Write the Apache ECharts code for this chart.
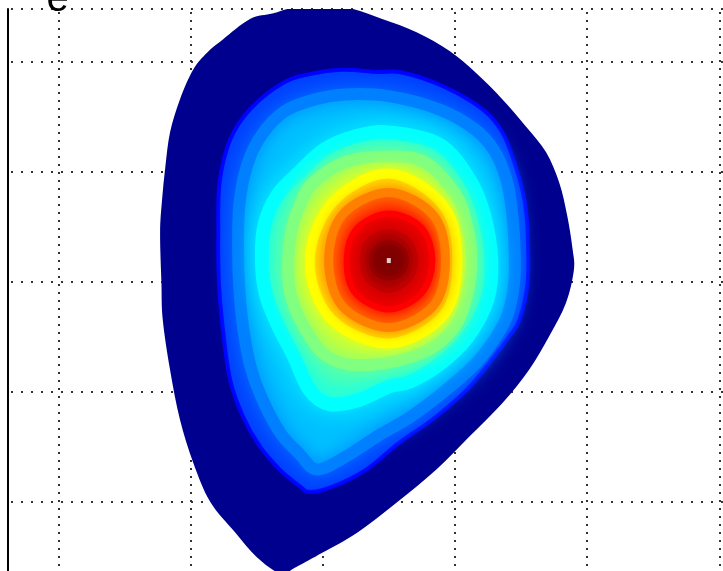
<!DOCTYPE html>
<html>
<head>
<meta charset="utf-8">
<script src="https://cdn.jsdelivr.net/npm/echarts@6/dist/echarts.min.js"></script>
<style>
html,body{margin:0;padding:0;background:#fff;}
#chart{width:723px;height:571px;}
</style>
</head>
<body>
<div id="chart"></div>
<script>
// ---- data (R, Z in axis units; grid spacing = 10) ----
const titleText = 'e';
const xGridValues = [50, 60, 70, 80, 90, 100];
const yGridValues = [-20, -10, 0, 10, 20, 24.818];
const xRange = [46.195, 100.28];
const yRange = [-26.273, 24.818];

// plasma boundary (outermost, lowest level)
const boundary = [[66.2,24.4],[67.7,24.9],[69.9,25.0],[72.0,24.9],[74.5,23.9],[77.1,22.7],[79.6,21.0],[81.6,19.0],[83.6,16.6],[85.4,14.1],[86.9,11.8],[87.9,9.0],[88.5,6.0],[88.9,3.0],[89.0,1.1],[88.4,-1.9],[87.1,-5.0],[85.6,-8.0],[83.6,-11.0],[81.1,-14.05],[78.6,-17.05],[75.6,-20.05],[72.6,-22.8],[70.0,-24.6],[68.0,-25.9],[66.8,-26.5],[65.0,-25.0],[63.4,-22.8],[61.5,-20.0],[60.2,-16.4],[59.2,-12.5],[58.45,-7.95],[57.9,-3.4],[57.8,0.0],[57.7,4.5],[57.85,7.5],[58.1,10.5],[58.45,13.6],[59.2,16.6],[60.2,19.3],[61.25,20.85],[62.45,22.05],[64.5,23.9]];

// contour rings, outer to inner
const ring125 = [[69.0,18.9],[71.5,19.3],[74.1,19.1],[76.0,19.05],[79.1,17.8],[82.1,15.7],[83.6,13.6],[84.6,10.5],[85.25,7.5],[85.5,4.5],[85.5,0.0],[84.9,-3.4],[84.1,-4.95],[82.8,-7.05],[80.9,-9.8],[78.3,-12.5],[75.8,-14.6],[73.3,-17.05],[70.75,-18.6],[69.0,-19.1],[68.3,-18.6],[66.75,-17.05],[65.25,-14.95],[63.96,-12.2],[63.0,-8.9],[62.45,-4.3],[62.15,-0.05],[62.1,4.5],[62.2,9.05],[63.0,12.95],[64.5,15.7],[67.0,18.1]];
const ring250 = [[69.4,16.6],[71.7,17.05],[75.0,16.9],[78.8,15.7],[81.5,13.9],[83.0,11.9],[83.9,9.3],[84.3,6.6],[84.5,3.4],[84.5,0.2],[84.0,-2.95],[83.0,-5.2],[81.5,-7.5],[79.2,-9.95],[76.6,-12.3],[74.3,-13.9],[72.0,-15.7],[70.15,-16.9],[69.2,-16.9],[68.3,-15.7],[66.9,-13.9],[65.6,-11.1],[64.6,-7.95],[64.0,-4.3],[63.7,-0.7],[63.6,2.95],[63.7,7.05],[64.3,10.7],[65.4,13.4],[67.1,15.5]];
const ring375 = [[75.0,13.6],[78.8,12.5],[81.1,9.3],[82.2,6.1],[82.75,1.95],[82.45,-1.6],[80.9,-5.1],[78.8,-7.5],[76.6,-9.05],[75.0,-9.5],[72.8,-10.7],[70.5,-11.1],[69.0,-9.8],[67.8,-6.7],[66.6,-3.9],[65.7,-1.1],[65.4,1.95],[65.6,5.2],[66.6,7.95],[68.3,10.05],[70.15,12.05],[72.4,13.2]];
const ring500 = [[75.0,11.4],[77.7,10.9],[80.0,8.05],[80.9,5.2],[81.25,1.95],[80.9,-1.3],[80.0,-4.05],[78.1,-6.1],[75.0,-7.3],[72.0,-7.5],[70.15,-6.6],[69.1,-5.1],[68.1,-2.95],[67.5,-0.7],[67.4,1.95],[67.7,4.95],[68.3,7.05],[69.2,8.95],[71.7,10.9]];
const ring625 = [[75.0,9.86],[79.13,6.95],[80.19,1.95],[79.13,-3.05],[75.0,-5.59],[70.6,-3.32],[69.02,1.95],[70.75,7.23]];
const ring750 = [[75.0,8.14],[78.38,6.05],[79.28,1.95],[78.38,-2.14],[75.0,-4.14],[71.51,-2.23],[70.45,1.95],[71.51,6.14]];
const ring875 = [[75.0,6.23],[77.47,4.95],[78.3,1.95],[77.47,-1.05],[75.0,-2.5],[72.49,-1.05],[71.81,1.95],[72.57,4.86]];
const ring938 = [[75.0,4.59],[76.49,3.77],[77.02,1.95],[76.49,0.14],[75.0,-0.77],[73.47,0.14],[73.02,1.95],[73.47,3.77]];
const ringCore = [[75.0,3.59],[75.98,3.13],[76.36,1.95],[75.98,0.77],[75.0,0.31],[74.02,0.77],[73.64,1.95],[74.02,3.13]];

const contourRings  = [boundary, ring125, ring250, ring375, ring500, ring625, ring750, ring875, ring938, ringCore];
// level on each contour line, and the mean level of the band just inside it
const contourLevels = [0, 0.125, 0.25, 0.375, 0.5, 0.625, 0.75, 0.875, 0.9375, 0.98];
const bandLevels    = [0, 0.1875, 0.3125, 0.4375, 0.5625, 0.6875, 0.8125, 0.906, 0.955, 1.0];
const magneticAxis  = [[75.0, 1.95]];

const jetColors = ['#00008f','#0000ff','#0080ff','#00ffff','#80ff80','#ffff00','#ff8000','#ff0000','#800000'];

// ---- styling ----
const blendWidth = [0, 4, 12, 14, 12, 10, 9, 6, 5, 4];
const blendBlur  = [0, 0, 18, 22, 18, 15, 13, 10, 8, 8];
const dotColor = '#333';

const chart = echarts.init(document.getElementById('chart'), null, {renderer: 'canvas'});

// closed smooth curve (Catmull-Rom as cubic Beziers) through a ring's points
function ringPath(i, api) {
  const p = contourRings[i].map(q => api.coord(q));
  const n = p.length;
  let d = 'M' + p[0][0].toFixed(2) + ',' + p[0][1].toFixed(2);
  for (let k = 0; k < n; k++) {
    const p0 = p[(k - 1 + n) % n], p1 = p[k], p2 = p[(k + 1) % n], p3 = p[(k + 2) % n];
    const c1x = p1[0] + (p2[0] - p0[0]) / 6, c1y = p1[1] + (p2[1] - p0[1]) / 6;
    const c2x = p2[0] - (p3[0] - p1[0]) / 6, c2y = p2[1] - (p3[1] - p1[1]) / 6;
    d += 'C' + c1x.toFixed(2) + ',' + c1y.toFixed(2) + ',' + c2x.toFixed(2) + ',' + c2y.toFixed(2) +
         ',' + p2[0].toFixed(2) + ',' + p2[1].toFixed(2);
  }
  return d + 'Z';
}

const option = {
  animation: false,
  backgroundColor: '#ffffff',
  grid: {left: 8, right: 0, top: 9, bottom: 0},
  xAxis: {
    type: 'value', min: xRange[0], max: xRange[1],
    axisLine: {show: false},
    axisTick: {show: false, customValues: xGridValues},
    axisLabel: {show: false},
    splitLine: {show: true, lineStyle: {color: dotColor, width: 2, type: [2, 6], dashOffset: 5}}
  },
  yAxis: {
    type: 'value', min: yRange[0], max: yRange[1],
    axisLine: {show: true, onZero: false, lineStyle: {color: '#000', width: 2}},
    axisTick: {show: false, customValues: yGridValues},
    axisLabel: {show: false},
    splitLine: {show: true, lineStyle: {color: dotColor, width: 2, type: [2, 8], dashOffset: 7}}
  },
  visualMap: [
    {show: false, type: 'continuous', seriesIndex: 0, dimension: 1, min: 0, max: 1, inRange: {color: jetColors}},
    {show: false, type: 'continuous', seriesIndex: 1, dimension: 1, min: 0, max: 1, inRange: {color: jetColors}}
  ],
  graphic: [{
    type: 'text', z: 100,
    style: {text: titleText, x: 57.5, y: 0, font: '40px "Liberation Sans", Arial, sans-serif',
            fill: '#000', align: 'center', verticalAlign: 'middle',
            textAlign: 'center', textVerticalAlign: 'middle'}
  }],
  series: [
    { // filled bands
      type: 'custom', clip: true, silent: true, z: 2,
      data: bandLevels.map((lv, i) => [i, lv]),
      renderItem: function (params, api) {
        const i = api.value(0);
        return {
          type: 'path', z2: i,
          shape: {pathData: ringPath(i, api)},
          style: {fill: api.visual('color'), stroke: null}
        };
      }
    },
    { // soft contour transitions
      type: 'custom', clip: true, silent: true, z: 3,
      data: contourLevels.map((lv, i) => [i, lv]).filter(d => blendWidth[d[0]] > 0),
      renderItem: function (params, api) {
        const i = api.value(0);
        const c = api.visual('color');
        return {
          type: 'path', z2: i,
          shape: {pathData: ringPath(i, api)},
          style: {fill: null, stroke: c, lineWidth: blendWidth[i], shadowBlur: blendBlur[i], shadowColor: c}
        };
      }
    },
    {
      type: 'scatter', silent: true, z: 5,
      data: magneticAxis, symbol: 'rect', symbolSize: [4, 5],
      itemStyle: {color: '#ffffff'}
    }
  ]
};
chart.setOption(option);
</script>
</body>
</html>
